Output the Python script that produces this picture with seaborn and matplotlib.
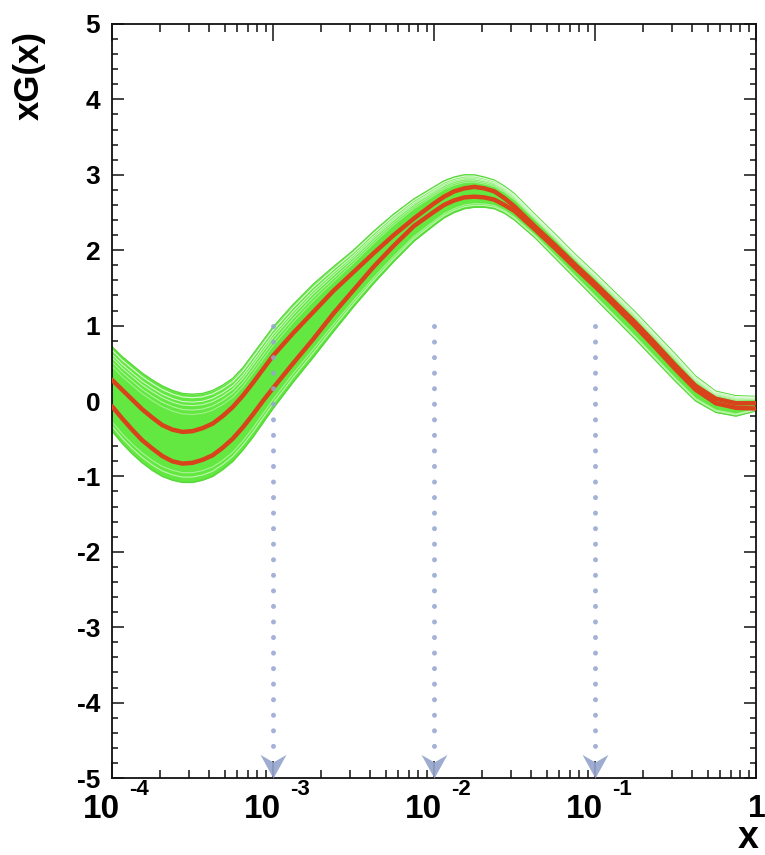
import numpy as np
import pandas as pd
import matplotlib
matplotlib.use("Agg")
import matplotlib.pyplot as plt
from matplotlib.path import Path
from matplotlib.ticker import LogLocator, MultipleLocator, NullFormatter
import seaborn as sns

# ---------------- data ----------------
LOG_X = [-4.0, -3.9375, -3.875, -3.8125, -3.75, -3.6875, -3.625, -3.5625, -3.5,
         -3.4375, -3.375, -3.3125, -3.25, -3.1875, -3.125, -3.0625, -3.0,
         -2.875, -2.75, -2.625, -2.5, -2.375, -2.25, -2.125,
         -2.0, -1.9375, -1.875, -1.8125, -1.75, -1.6875, -1.625, -1.5625, -1.5,
         -1.375, -1.25, -1.125, -1.0, -0.875, -0.75, -0.625, -0.5, -0.375,
         -0.25, -0.125, 0.0]

RED_UPPER = [0.28, 0.15, 0.02, -0.11, -0.22, -0.32, -0.38, -0.41, -0.40,
             -0.36, -0.30, -0.20, -0.08, 0.07, 0.24, 0.42, 0.60,
             0.90, 1.18, 1.46, 1.71, 1.96, 2.20, 2.42,
             2.62, 2.71, 2.78, 2.82, 2.84, 2.82, 2.78, 2.69, 2.58,
             2.32, 2.07, 1.81, 1.56, 1.30, 1.04, 0.76, 0.47, 0.20,
             0.03, -0.03, -0.03]

RED_LOWER = [-0.07, -0.23, -0.38, -0.52, -0.63, -0.73, -0.80, -0.83, -0.82,
             -0.78, -0.72, -0.62, -0.50, -0.35, -0.18, 0.00, 0.17,
             0.50, 0.82, 1.16, 1.47, 1.78, 2.06, 2.32,
             2.51, 2.60, 2.66, 2.70, 2.71, 2.70, 2.67, 2.60, 2.52,
             2.28, 2.03, 1.77, 1.52, 1.26, 0.99, 0.71, 0.42, 0.15,
             -0.03, -0.09, -0.10]

BAND_UPPER = [0.72, 0.59, 0.48, 0.37, 0.28, 0.20, 0.14, 0.10, 0.09,
              0.10, 0.14, 0.21, 0.30, 0.44, 0.62, 0.80, 0.98,
              1.28, 1.55, 1.78, 2.00, 2.25, 2.48, 2.68,
              2.84, 2.92, 2.97, 3.00, 3.00, 2.97, 2.93, 2.85, 2.75,
              2.48, 2.22, 1.95, 1.70, 1.44, 1.18, 0.90, 0.62, 0.33,
              0.13, 0.07, 0.06]

BAND_LOWER = [-0.40, -0.56, -0.70, -0.82, -0.92, -1.00, -1.05, -1.08, -1.08,
              -1.05, -1.00, -0.91, -0.80, -0.65, -0.48, -0.29, -0.10,
              0.25, 0.58, 0.92, 1.25, 1.56, 1.85, 2.12,
              2.33, 2.43, 2.50, 2.55, 2.57, 2.57, 2.55, 2.49, 2.40,
              2.17, 1.90, 1.63, 1.36, 1.09, 0.82, 0.54, 0.26, 0.00,
              -0.15, -0.20, -0.13]

ARROW_X = [1e-3, 1e-2, 1e-1]
ARROW_TOP = 1.0

Y_TICKS = [-5, -4, -3, -2, -1, 0, 1, 2, 3, 4, 5]
X_DECADES = [1e-4, 1e-3, 1e-2, 1e-1]
X_EXPONENTS = ["-4", "-3", "-2", "-1"]

# ---------------- style ----------------
sns.set_theme(style="white")
plt.rcParams["font.family"] = ["Liberation Sans", "DejaVu Sans"]
plt.rcParams["font.weight"] = "bold"
plt.rcParams["axes.unicode_minus"] = False
plt.rcParams["text.color"] = "black"
plt.rcParams["xtick.color"] = "#111111"
plt.rcParams["ytick.color"] = "#111111"
plt.rcParams["xtick.labelcolor"] = "black"
plt.rcParams["ytick.labelcolor"] = "black"

W, H = 765, 855
fig = plt.figure(figsize=(W / 100, H / 100), dpi=100)
L, R, T, B = 112, 756, 24, 778
ax = fig.add_axes([L / W, (H - B) / H, (R - L) / W, (B - T) / H])
ax.set_facecolor("white")

x = 10 ** np.array(LOG_X)
df = pd.DataFrame({"x": x, "red_up": RED_UPPER, "red_lo": RED_LOWER,
                   "band_up": BAND_UPPER, "band_lo": BAND_LOWER})

GREEN = "#62E840"
ax.fill_between(df["x"], df["band_lo"], df["band_up"], color=GREEN, lw=0, zorder=1)
sns.lineplot(data=df, x="x", y="band_up", ax=ax, color="#58D83A", lw=1.0, zorder=2)
sns.lineplot(data=df, x="x", y="band_lo", ax=ax, color="#58D83A", lw=1.0, zorder=2)

# thin white gaps between replica curves (texture of the band)
up = np.array(BAND_UPPER)
lo = np.array(BAND_LOWER)
for f, a in [(0.96, 0.8), (0.91, 0.7), (0.87, 0.6), (0.82, 0.5), (0.77, 0.4),
             (0.06, 0.6), (0.11, 0.45)]:
    ax.plot(x, lo + f * (up - lo), color="white", lw=0.8, alpha=a, zorder=2,
            solid_joinstyle="round")

RED = "#D9431C"
sns.lineplot(data=df, x="x", y="red_up", ax=ax, color=RED, lw=3.2, zorder=4,
             solid_joinstyle="round")
sns.lineplot(data=df, x="x", y="red_lo", ax=ax, color=RED, lw=3.2, zorder=4,
             solid_joinstyle="round")

# dotted vertical markers with arrow heads
DOT = "#95A5D0"
for xa in ARROW_X:
    ax.plot([xa, xa], [ARROW_TOP, -4.75], color=DOT, lw=3.6, alpha=0.85,
            ls=(0, (0.01, 3.1)), dash_capstyle="round", zorder=5)

arrow_path = Path([(0, 0), (-0.55, 1), (0, 0.68), (0.55, 1), (0, 0)],
                  [Path.MOVETO, Path.LINETO, Path.LINETO, Path.LINETO, Path.CLOSEPOLY])
ax.plot(ARROW_X, [-5] * len(ARROW_X), ls="none", marker=arrow_path,
        markersize=34, color="#93A3CB", markeredgewidth=0, alpha=0.9,
        clip_on=False, zorder=6)

# axes
ax.set_xscale("log")
ax.set_xlim(1e-4, 1)
ax.set_ylim(-5, 5)
ax.xaxis.set_major_locator(LogLocator(base=10, numticks=10))
ax.xaxis.set_minor_locator(LogLocator(base=10, subs=np.arange(2, 10), numticks=20))
ax.xaxis.set_major_formatter(NullFormatter())
ax.xaxis.set_minor_formatter(NullFormatter())
ax.set_yticks(Y_TICKS)
ax.set_yticklabels([str(v) for v in Y_TICKS])
ax.yaxis.set_minor_locator(MultipleLocator(0.2))
ax.set_xlabel("")
ax.set_ylabel("")

ax.tick_params(axis="x", which="major", direction="in", length=12, width=1.1,
               top=True, bottom=True)
ax.tick_params(axis="x", which="minor", direction="in", length=6, width=1.1,
               top=True, bottom=True)
ax.tick_params(axis="y", which="major", direction="in", length=8.6, width=1.1,
               left=True, right=True, pad=8.5, labelsize=19)
ax.tick_params(axis="y", which="minor", direction="in", length=4.3, width=1.1,
               left=True, right=True)
for lab in ax.get_yticklabels():
    lab.set_fontweight("bold")

for s in ax.spines.values():
    s.set_color("#111111")
    s.set_linewidth(1.3)
    s.set_visible(True)

# x tick labels in ROOT style: "10" with a raised exponent
for xv, ex in zip(X_DECADES, X_EXPONENTS):
    ax.annotate("10", xy=(xv, 0), xycoords=("data", "axes fraction"),
                xytext=(-7.5, -23), textcoords="offset points",
                ha="center", va="center", fontsize=24, fontweight="bold",
                annotation_clip=False)
    ax.annotate(ex, xy=(xv, 0), xycoords=("data", "axes fraction"),
                xytext=(12.5, -8.6), textcoords="offset points",
                ha="left", va="center", fontsize=16, fontweight="bold",
                annotation_clip=False)
ax.annotate("1", xy=(1, 0), xycoords=("data", "axes fraction"),
            xytext=(0.5, -22), textcoords="offset points",
            ha="center", va="center", fontsize=23, fontweight="bold",
            annotation_clip=False)

fig.text(748 / W, 1 - 838 / H, "x", ha="center", va="center",
         fontsize=27, fontweight="bold")
fig.text(29 / W, 1 - 75 / H, "xG(x)", ha="center", va="center",
         rotation=90, fontsize=25, fontweight="bold")

fig.savefig("out.png", dpi=100, facecolor="white")
